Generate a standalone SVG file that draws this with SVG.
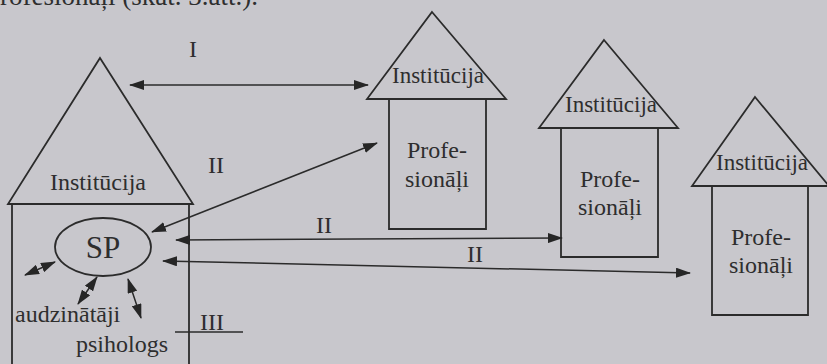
<svg xmlns="http://www.w3.org/2000/svg" width="827" height="364" viewBox="0 0 827 364">
<defs>
<marker id="ah" viewBox="0 0 15 10" refX="14" refY="5" markerWidth="15" markerHeight="10" markerUnits="userSpaceOnUse" orient="auto-start-reverse">
<path d="M0,0 L15,5 L0,10 Z" fill="#262626"/>
</marker>
</defs>
<rect width="827" height="364" fill="#c8c7cc"/>
<g font-family="Liberation Serif" fill="#2e2e2e" font-size="24">
<text x="0" y="5" font-size="27">rofesionāļi (skat. 3.att.).</text>
</g>
<g id="house-main" fill="none" stroke="#2b2b2b" stroke-width="1.8">
<polygon points="100,58 193,204 8,204"/>
<polyline points="12,204 12,370"/>
<polyline points="189,204 189,370"/>
<text x="98" y="190" font-size="24" font-family="Liberation Serif" fill="#2e2e2e" stroke="none" text-anchor="middle">Institūcija</text>
</g>
<g id="sp" fill="none" stroke="#2b2b2b" stroke-width="1.8">
<ellipse cx="103" cy="247" rx="48" ry="29"/>
<text x="103" y="258" font-size="31" font-family="Liberation Serif" fill="#2e2e2e" stroke="none" text-anchor="middle">SP</text>
</g>
<g id="audzinataji"><text x="15" y="322" font-size="24" font-family="Liberation Serif" fill="#2e2e2e">audzinātāji</text></g>
<g id="psihologs"><text x="76" y="352" font-size="24" font-family="Liberation Serif" fill="#2e2e2e">psihologs</text></g>

<g id="house-2" fill="none" stroke="#2b2b2b" stroke-width="1.8">
<polygon points="432,12 506,99 367,99"/>
<polyline points="389,99 389,229 486,229 486,99"/>
<g font-family="Liberation Serif" fill="#2e2e2e" stroke="none" text-anchor="middle" font-size="24">
<text x="438" y="83" font-size="23">Institūcija</text>
<text x="437" y="158">Profe-</text>
<text x="437" y="187">sionāļi</text>
</g>
</g>
<g id="house-3" fill="none" stroke="#2b2b2b" stroke-width="1.8">
<polygon points="604,40 678,128 539,128"/>
<polyline points="561,128 561,257 658,257 658,128"/>
<g font-family="Liberation Serif" fill="#2e2e2e" stroke="none" text-anchor="middle" font-size="24">
<text x="611" y="112" font-size="23">Institūcija</text>
<text x="610" y="187">Profe-</text>
<text x="610" y="215">sionāļi</text>
</g>
</g>
<g id="house-4" fill="none" stroke="#2b2b2b" stroke-width="1.8">
<polygon points="755,97 829,186 692,186"/>
<polyline points="712,186 712,315 808,315 808,186"/>
<g font-family="Liberation Serif" fill="#2e2e2e" stroke="none" text-anchor="middle" font-size="24">
<text x="762" y="170" font-size="23">Institūcija</text>
<text x="761" y="245">Profe-</text>
<text x="761" y="273">sionāļi</text>
</g>
</g>

<g id="connectors" fill="none" stroke="#2b2b2b" stroke-width="1.5">
<line x1="130" y1="85" x2="368" y2="85" marker-start="url(#ah)" marker-end="url(#ah)"/>
<line x1="152" y1="232" x2="377" y2="143" marker-start="url(#ah)" marker-end="url(#ah)"/>
<line x1="176" y1="240" x2="562" y2="238" marker-start="url(#ah)" marker-end="url(#ah)"/>
<line x1="163" y1="261" x2="690" y2="273" marker-start="url(#ah)" marker-end="url(#ah)"/>
<line x1="25" y1="275" x2="55" y2="262" marker-start="url(#ah)" marker-end="url(#ah)"/>
<line x1="78" y1="304" x2="97" y2="277" marker-start="url(#ah)" marker-end="url(#ah)"/>
<line x1="128" y1="279" x2="141" y2="318" marker-start="url(#ah)" marker-end="url(#ah)"/>
<line x1="175" y1="332" x2="243" y2="332"/>
</g>
<g id="labels" font-family="Liberation Serif" fill="#2e2e2e" text-anchor="middle" font-size="24">
<text x="193" y="57">I</text>
<text x="216" y="173">II</text>
<text x="324" y="233">II</text>
<text x="475" y="262">II</text>
<text x="212" y="330">III</text>
</g>
</svg>
